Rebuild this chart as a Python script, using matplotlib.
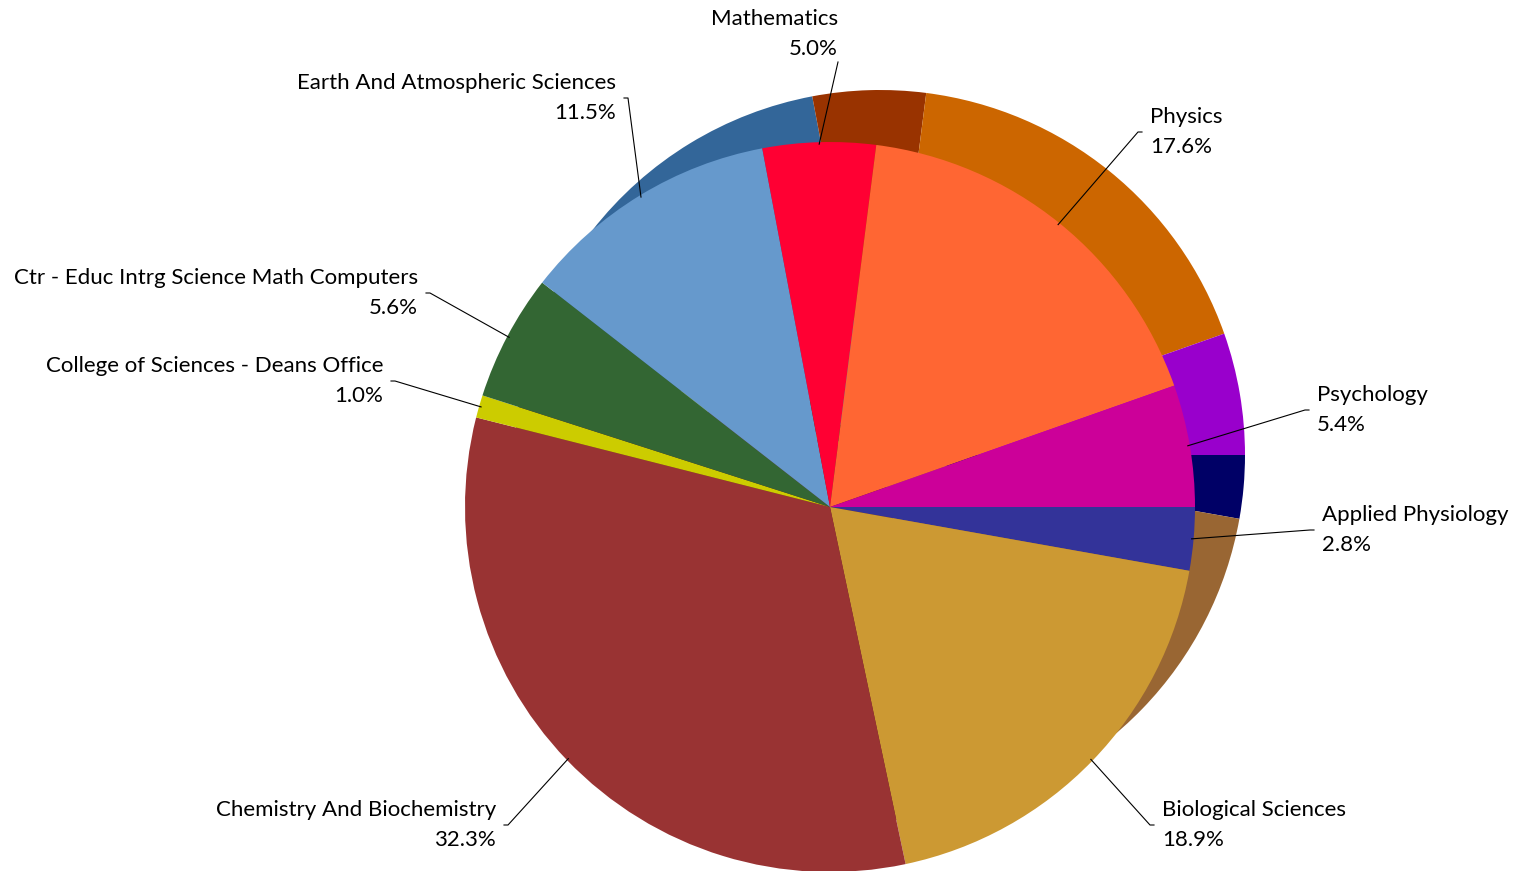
import numpy as np
import matplotlib
matplotlib.use("Agg")
import matplotlib.pyplot as plt

# ---- data ----
categories = ["Applied Physiology", "Biological Sciences", "Chemistry And Biochemistry",
              "College of Sciences - Deans Office", "Ctr - Educ Intrg Science Math Computers",
              "Earth And Atmospheric Sciences", "Mathematics", "Physics", "Psychology"]
shares = [2.8, 18.9, 32.3, 1.0, 5.6, 11.5, 5.0, 17.6, 5.4]

main_colors = ["#333399", "#CC9933", "#993333", "#CCCC00", "#336633",
               "#6699CC", "#FF0033", "#FF6633", "#CC0099"]
back_colors = ["#000066", "#996633", "#662222", "#999900", "#224422",
               "#336699", "#993300", "#CC6600", "#9900CC"]

# ---- layout (pixel space, y measured from top) ----
W, H = 1515, 871
main_center = (830, 507)
back_center = (880, 455)
radius = 365
# label elbow points and side
elbows = [(1310, 530), (1150, 825), (508, 825), (395, 381), (430, 293),
          (628, 98), (838, 62), (1138, 132), (1305, 410)]
sides = ["right", "right", "left", "left", "left", "left", "top", "right", "right"]

plt.rcParams['font.family'] = ['Lato', 'DejaVu Sans']

fig = plt.figure(figsize=(W / 100, H / 100), dpi=100)
ax = fig.add_axes([0, 0, 1, 1])

def py(y):
    return H - y

ax.pie(shares, colors=back_colors, center=(back_center[0], py(back_center[1])),
       radius=radius, startangle=0, counterclock=False,
       wedgeprops=dict(linewidth=0))
wedges, _ = ax.pie(shares, colors=main_colors, center=(main_center[0], py(main_center[1])),
                   radius=radius, startangle=0, counterclock=False,
                   wedgeprops=dict(linewidth=0))

ax.set_xlim(0, W)
ax.set_ylim(0, H)
ax.set_aspect('equal')
ax.axis('off')

FS = 16
LS = 1.6
for w, name, v, (ex, ey), side in zip(wedges, categories, shares, elbows, sides):
    mid = np.deg2rad((w.theta1 + w.theta2) / 2)
    sx = w.center[0] + (radius - 2) * np.cos(mid)
    sy = w.center[1] + (radius - 2) * np.sin(mid)
    ey2 = py(ey)
    label = f"{name}\n{v:.1f}%"
    if side == "right":
        ax.plot([sx, ex, ex + 4], [sy, ey2, ey2], color="black", lw=0.8)
        ax.text(ex + 12, ey2, label, ha="left", va="center", ma="left",
                fontsize=FS, linespacing=LS, color="black")
    elif side == "left":
        ax.plot([sx, ex, ex - 4], [sy, ey2, ey2], color="black", lw=0.8)
        ax.text(ex - 12, ey2, label, ha="right", va="center", ma="right",
                fontsize=FS, linespacing=LS, color="black")
    else:
        ax.plot([sx, ex], [sy, ey2], color="black", lw=0.8)
        ax.text(ex, ey2 + 3, label, ha="right", va="bottom", ma="right",
                fontsize=FS, linespacing=LS, color="black")

fig.savefig("out.png", dpi=100)
